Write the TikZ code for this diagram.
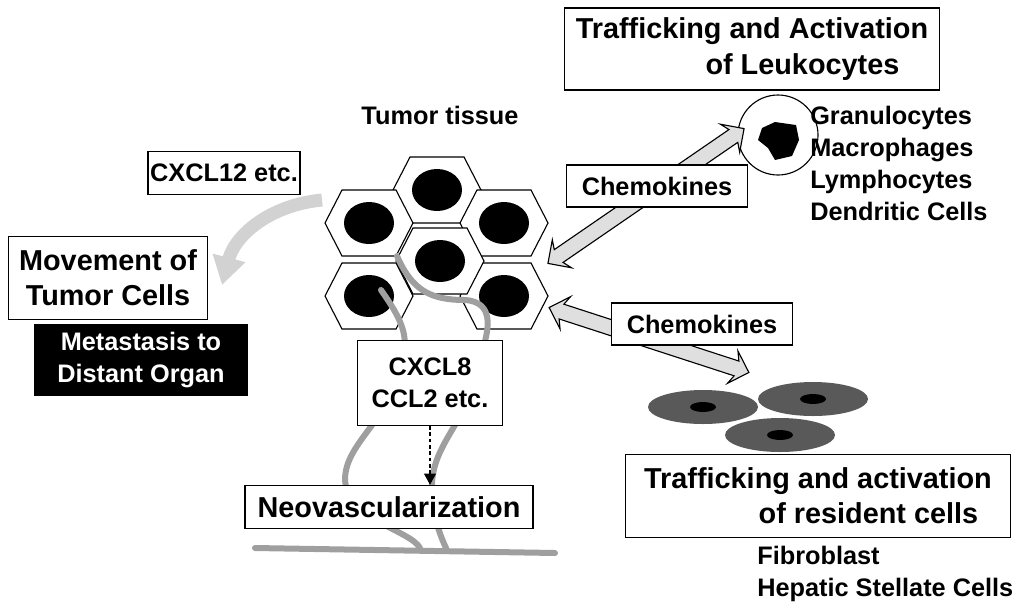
\documentclass[tikz,border=0pt]{standalone}
\usepackage{fontspec}
\setmainfont{Liberation Sans}
\usetikzlibrary{shapes.arrows, arrows.meta, positioning, calc}
\def\px{0.025cm}
\tikzset{
	box/.style={rectangle, draw, thick, fill=white, align=center, font=\bfseries\fontsize{18}{23}\selectfont, inner sep=0pt},
	bigbox/.style={box, font=\bfseries\fontsize{20.5}{25}\selectfont},
	label/.style={align=left, font=\bfseries\fontsize{18}{22.7}\selectfont, inner sep=0pt},
	fatarrow/.style={double arrow, draw, thick, fill=gray!25, minimum width=34*\px, double arrow head extend=9*\px, inner xsep=0pt, inner ysep=7*\px, double arrow head indent=4*\px},
	vessel/.style={line width=6*\px, gray!75, line cap=round},
}
\newcommand{\cell}[3]{% center x, y, name
	\draw[thick, fill=white] (#1-44,#2) -- (#1-27,#2-33) -- (#1+27,#2-33) -- (#1+44,#2) -- (#1+27,#2+33) -- (#1-27,#2+33) -- cycle;
	\fill (#1,#2) ellipse (25 and 21);
	\coordinate (#3) at (#1,#2);
}

\begin{document}
\begin{tikzpicture}[x=0.025cm, y=-0.025cm, >=Stealth]
	\useasboundingbox (0,0) rectangle (1024,613);
	
	% --- Tumor tissue ---
	\node[label] (tissue) at (440,115) {Tumor tissue};
	\cell{437}{190}{c1}
	\cell{369}{223}{c2}
	\cell{504}{223}{c3}
	\cell{369}{296}{c5}
	\cell{504}{296}{c6}
	\cell{440}{261}{c4}
	
	% --- Vessels ---
	\draw[vessel] (397,256) .. controls (412,290) and (430,300) .. (465,300)
		.. controls (495,302) and (488,330) .. (484,345)
		.. controls (475,420) and (430,440) .. (432,490)
		.. controls (434,520) and (440,535) .. (446,548);
	\draw[vessel] (381,290) .. controls (395,310) and (408,330) .. (404,350)
		.. controls (395,420) and (345,440) .. (345,480)
		.. controls (348,520) and (410,530) .. (420,548);
	\draw[vessel] (255,548) -- (555,553);
	
	% --- Left side ---
	\node[box, minimum width=152*\px, minimum height=43*\px] (cxcl12) at (224,173) {CXCL12 etc.};
	\draw[line width=13*\px, gray!35, -{Triangle[length=28*\px, width=32*\px]}]
		(322,200) .. controls (270,205) and (235,235) .. (222,285);
	\node[bigbox, minimum width=199*\px, minimum height=83*\px] (move) at (108,278) {Movement of\\Tumor Cells};
	\node[box, fill=black, text=white, minimum width=212*\px, minimum height=70*\px] (meta) at (141,360) {Metastasis to\\Distant Organ};
	
	% --- Vessel growth ---
	\node[box, minimum width=145*\px, minimum height=85*\px] (cxcl8) at (430,383) {CXCL8\\CCL2 etc.};
	\node[bigbox, minimum width=288*\px, minimum height=43*\px] (neo) at (389,507) {Neovascularization};
	\draw[-{Triangle[length=8pt, width=8pt]}, line width=2pt, dash pattern=on 2.5pt off 2pt] (cxcl8.south) -- (cxcl8.south |- neo.north);
	
	% --- Leukocytes ---
	\node[bigbox, minimum width=375*\px, minimum height=82*\px] (leuko) at (752,49) {Trafficking and Activation\\\hspace*{3.5em}of Leukocytes};
	\node[circle, draw, thick, minimum size=80*\px] (leukocell) at (778,135) {};
	\fill (762,128) -- (775,122) -- (796,125) -- (799,140) -- (792,156) -- (775,160) -- (768,148) -- (758,140) -- cycle;
	\node[label, anchor=north west] (types) at (810,106) {Granulocytes\\Macrophages\\Lymphocytes\\Dendritic Cells};
	\node[fatarrow, minimum height=238*\px, rotate=34.5] (arrup) at (646,196) {};
	\node[box, minimum width=181*\px, minimum height=42*\px] (chemo1) at (657,186) {Chemokines};
	
	% --- Resident cells ---
	\node[fatarrow, minimum height=210*\px, rotate=-18] (arrdown) at (649,340) {};
	\node[box, minimum width=181*\px, minimum height=42*\px] (chemo2) at (702,324) {Chemokines};
	\foreach \cx/\cy in {703/407, 813/399, 780/435} {
		\fill[gray!70!black] (\cx,\cy) ellipse (55 and 17);
		\fill (\cx,\cy) ellipse (13 and 5);
	}
	\node[bigbox, minimum width=385*\px, minimum height=83*\px] (resident) at (818,496) {Trafficking and activation\\\hspace*{3.5em}of resident cells};
	\node[label, anchor=north west] (restypes) at (757,546) {Fibroblast\\Hepatic Stellate Cells};
\end{tikzpicture}
\end{document}
